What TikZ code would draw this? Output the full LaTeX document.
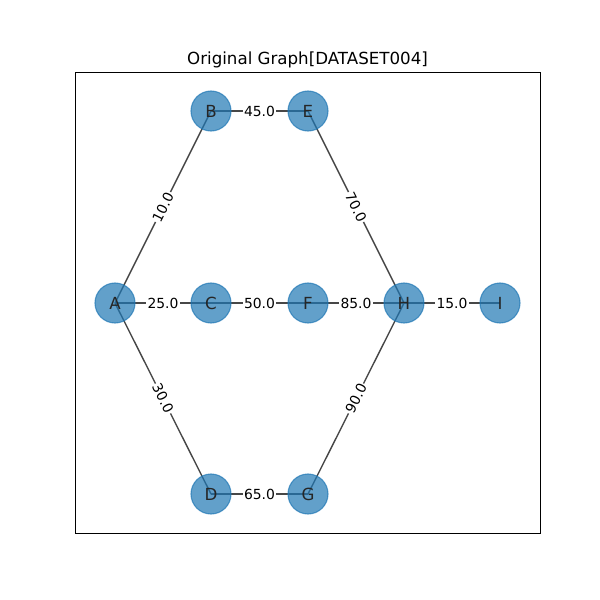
\documentclass[tikz,border=0pt]{standalone}
\usepackage{fontspec}
\setmainfont{DejaVu Sans}
\usetikzlibrary{backgrounds}
\definecolor{nodeblue}{HTML}{1f77b4}

\tikzset{
  vertex/.style={circle, minimum size=28.8pt, inner sep=0pt,
    fill=nodeblue, fill opacity=0.7, draw=nodeblue, draw opacity=0.7,
    line width=0.8pt, text=black!85, text opacity=1,
    font=\fontsize{12}{14}\selectfont},
  edge/.style={black!72, line width=1pt},
  weight/.style={sloped, fill=white, inner sep=0.8pt, text=black,
    font=\fontsize{10}{12}\selectfont},
}

\begin{document}
\begin{tikzpicture}[x=0.72pt,y=-0.72pt]
\useasboundingbox (0,0) rectangle (600,600);

%========================
% Cornice e titolo
%========================

\draw[line width=0.6pt] (75,72) rectangle (540,533);
\node[font=\fontsize{12}{14}\selectfont, anchor=base] (title) at (307.5,64)
  {Original Graph[DATASET004]};

%========================
% Nodi
%========================

\foreach \name/\x/\y in {A/115/303, B/211/111, C/211/303, D/211/494,
                         E/308/111, F/308/303, G/308/494, H/404/303, I/500/303}
{
    \node[vertex] (\name) at (\x,\y) {\name};
}

%========================
% Archi con pesi
%========================

\begin{scope}[on background layer]
\foreach \u/\v/\w in {A/B/10.0, A/C/25.0, A/D/30.0, B/E/45.0, C/F/50.0,
                      D/G/65.0, E/H/70.0, F/H/85.0, G/H/90.0, H/I/15.0}
{
    \draw[edge] (\u.center) -- node[weight] {\w} (\v.center);
}
\end{scope}
\end{tikzpicture}
\end{document}
